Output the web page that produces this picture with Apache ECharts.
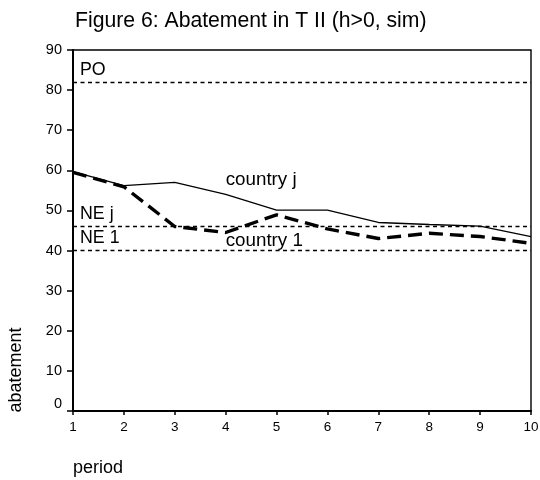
<!DOCTYPE html>
<html>
<head>
<meta charset="utf-8">
<script src="https://cdn.jsdelivr.net/npm/echarts@6/dist/echarts.min.js"></script>
<style>html,body{margin:0;padding:0;background:#fff}#c{width:540px;height:480px}</style>
</head>
<body>
<div id="c"></div>
<script>
var periods = [1, 2, 3, 4, 5, 6, 7, 8, 9, 10];
var countryJ = [59.7, 56.2, 57.0, 54.0, 50.1, 50.1, 47.0, 46.5, 46.1, 43.5];
var country1 = [59.5, 55.9, 46.0, 44.5, 48.9, 45.4, 43.0, 44.3, 43.5, 41.8];
var refLines = [{name: 'PO', value: 82}, {name: 'NE j', value: 46}, {name: 'NE 1', value: 40}];
var lineLabels = [{text: 'country j', x: 4, y: 57.6}, {text: 'country 1', x: 4, y: 42.4}];

var font = 'Liberation Sans, Arial, sans-serif';
var chart = echarts.init(document.getElementById('c'), null, {renderer: 'canvas'});

function pairs(vals) { return periods.map(function (p, i) { return [p, vals[i]]; }); }

chart.setOption({
  animation: false,
  backgroundColor: '#fff',
  title: {
    text: 'Figure 6: Abatement in T II (h>0, sim)',
    left: 75, top: 11, padding: 0,
    textStyle: {fontFamily: font, fontSize: 21.2, fontWeight: 'normal', color: '#000'}
  },
  grid: {left: 73, right: 9, top: 50, bottom: 69, show: true, borderColor: '#000', borderWidth: 1.4,
         backgroundColor: 'transparent', containLabel: false, outerBoundsMode: 'none'},
  graphic: [
    {type: 'text', x: 73, y: 468, style: {text: 'period', font: '18px ' + font, fill: '#000', textAlign: 'left', textVerticalAlign: 'middle'}},
    {type: 'text', x: 16, y: 370, rotation: Math.PI / 2, style: {text: 'abatement', font: '18px ' + font, fill: '#000', textAlign: 'center', textVerticalAlign: 'middle'}}
  ],
  xAxis: {
    type: 'value', min: 1, max: 10, interval: 1,
    axisLine: {show: true, lineStyle: {color: '#000', width: 2}},
    axisTick: {show: true, length: 4, lineStyle: {color: '#000', width: 1.5}},
    axisLabel: {fontFamily: font, fontSize: 13.5, color: '#000', margin: 9},
    splitLine: {show: false}
  },
  yAxis: {
    type: 'value', min: 0, max: 90, interval: 10,
    axisLine: {show: true, lineStyle: {color: '#000', width: 2}},
    axisTick: {show: true, length: 6, lineStyle: {color: '#000', width: 1.5}},
    axisLabel: {
      fontFamily: font, fontSize: 14.5, color: '#000', margin: 11,
      formatter: function (v) { return v === 0 ? '{z|0}' : String(v); },
      rich: {z: {fontFamily: font, fontSize: 14.5, color: '#000', padding: [0, 0, 15, 0]}}
    },
    splitLine: {show: false}
  },
  series: [
    {
      type: 'line', name: 'country j', data: pairs(countryJ), symbol: 'none',
      lineStyle: {color: '#000', width: 1.3, type: 'solid'},
      z: 3,
      markLine: {
        silent: true, symbol: 'none',
        lineStyle: {color: '#000', width: 1.3, type: [4, 3.5]},
        label: {show: true, position: 'insideStartTop', distance: [7, 3], formatter: '{b}', fontFamily: font, fontSize: 17.8, color: '#000'},
        data: refLines.map(function (r) { return {name: r.name, yAxis: r.value}; })
      },
      markPoint: {
        silent: true, symbol: 'circle', symbolSize: 0,
        label: {show: true, position: 'right', distance: 0, formatter: '{b}', fontFamily: font, fontSize: 18.8, color: '#000'},
        data: lineLabels.map(function (l) { return {name: l.text, coord: [l.x, l.y]}; })
      }
    },
    {
      type: 'line', name: 'country 1', data: pairs(country1), symbol: 'none',
      lineStyle: {color: '#000', width: 3.4, type: [14, 7]},
      z: 4
    }
  ]
});
</script>
</body>
</html>
